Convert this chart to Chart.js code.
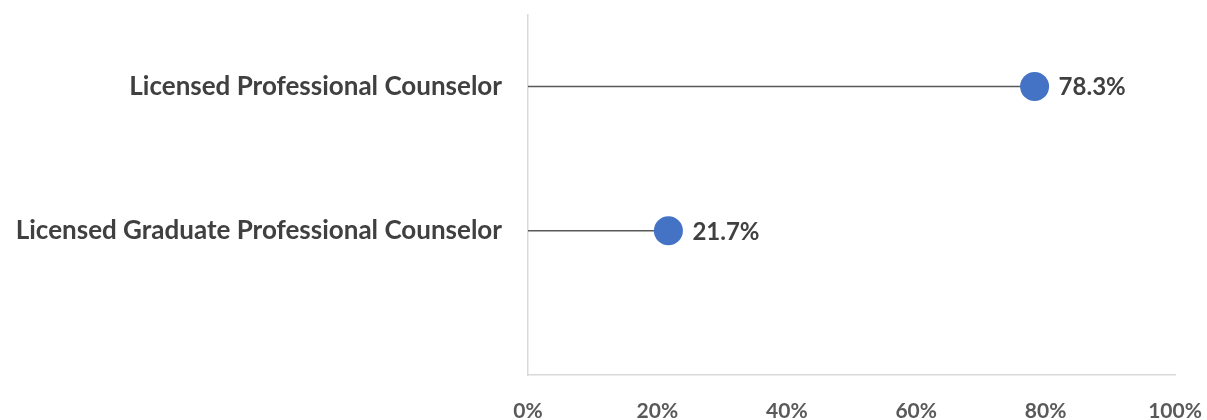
<!DOCTYPE html>
<html>
<head>
<meta charset="utf-8">
<script src="https://cdn.jsdelivr.net/npm/chart.js@4"></script>
<style>
  html, body { margin: 0; padding: 0; background: #fff; }
  #wrap { width: 1207px; height: 420px; }
</style>
</head>
<body>
<div id="wrap"><canvas id="lollipopChart"></canvas></div>
<script>
// bottom row first, so index + 1 gives the row position on the y scale
const categories = ['Licensed Graduate Professional Counselor', 'Licensed Professional Counselor'];
const shares = [21.7, 78.3];
const xTicks = [0, 20, 40, 60, 80, 100];

const dotColor = '#4472C4';
const textColor = '#404040';
const fontFamily = 'Lato, "Open Sans", sans-serif';

// one thin line per row from 0 to the value
const stems = categories.map((c, i) => ({
  type: 'line',
  data: [{ x: 0, y: i + 1 }, { x: shares[i], y: i + 1 }],
  borderColor: '#595959',
  borderWidth: 1.5,
  pointRadius: 0,
  order: 2
}));

const dots = {
  type: 'scatter',
  data: shares.map((v, i) => ({ x: v, y: i + 1 })),
  backgroundColor: dotColor,
  borderWidth: 0,
  pointRadius: 14.5,
  pointHoverRadius: 14.5,
  order: 1
};

const valueLabels = {
  id: 'valueLabels',
  afterDatasetsDraw(chart) {
    const ctx = chart.ctx;
    const meta = chart.getDatasetMeta(chart.data.datasets.length - 1);
    ctx.save();
    ctx.fillStyle = textColor;
    ctx.font = 'bold 24px ' + fontFamily;
    ctx.textBaseline = 'middle';
    ctx.textAlign = 'left';
    meta.data.forEach((pt, i) => {
      ctx.fillText(shares[i].toFixed(1) + '%', pt.x + 24, pt.y + 1);
    });
    ctx.restore();
  }
};

// invisible tick marks give the gap between labels and axis
// without padding the chart area
const hiddenTicks = (len) => ({
  display: true,
  drawOnChartArea: false,
  drawTicks: true,
  tickLength: len,
  tickColor: 'rgba(0,0,0,0)'
});

window.addEventListener('load', () => {
  const ctx = document.getElementById('lollipopChart').getContext('2d');
  new Chart(ctx, {
    type: 'scatter',
    data: { datasets: [...stems, dots] },
    plugins: [valueLabels],
    options: {
      responsive: true,
      maintainAspectRatio: false,
      animation: false,
      layout: { padding: { top: 6, right: 32, left: 0, bottom: 0 } },
      plugins: {
        legend: { display: false },
        tooltip: { enabled: false }
      },
      scales: {
        x: {
          type: 'linear',
          min: 0,
          max: 100,
          afterBuildTicks: (scale) => { scale.ticks = xTicks.map(v => ({ value: v })); },
          grid: hiddenTicks(24),
          border: { display: true, color: '#d9d9d9', width: 1.5 },
          ticks: {
            padding: 0,
            maxRotation: 0,
            color: '#595959',
            font: { family: fontFamily, size: 21, weight: 'bold' },
            callback: (v) => v + '%'
          },
          afterFit: (scale) => { scale.height = 45; }
        },
        y: {
          type: 'linear',
          min: 0,
          max: 2.5,
          afterBuildTicks: (scale) => { scale.ticks = categories.map((c, i) => ({ value: i + 1 })); },
          grid: hiddenTicks(26),
          border: { display: true, color: '#d9d9d9', width: 1.5 },
          ticks: {
            padding: 0,
            color: textColor,
            font: { family: fontFamily, size: 26, weight: 'bold', lineHeight: 0.5 },
            callback: (v) => categories[v - 1]
          },
          afterFit: (scale) => { scale.width = 528; }
        }
      }
    }
  });
});
</script>
</body>
</html>
